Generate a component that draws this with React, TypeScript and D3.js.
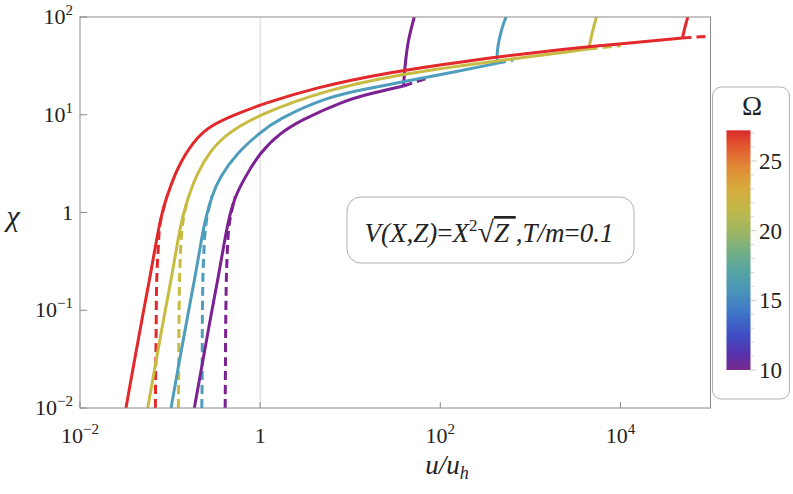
import React from 'react';
import * as d3 from 'd3';

type P = [number, number];

// ---- axis ticks ----
const xTickValues = [0.01, 1, 100, 10000];
const xTickBase = ['10', '1', '10', '10'];
const xTickExp = ['−2', '', '2', '4'];
const yTickValues = [0.01, 0.1, 1, 10, 100];
const yTickBase = ['10', '10', '1', '10', '10'];
const yTickExp = ['−2', '−1', '', '1', '2'];
const gridX = [1];

// ---- colour bar ----
const omegaTicks = [10, 15, 20, 25];
const omegaMinor = [11, 12, 13, 14, 16, 17, 18, 19, 21, 22, 23, 24, 26, 27];
const omegaDomain = [10, 27.2];
const rainbowOmega = [10, 11, 12.5, 14, 15.5, 17, 18.5, 20, 21.5, 23, 24.5, 26, 27.2];
const rainbowColors = ['#7a2a8c', '#5a2ea8', '#3f4ec4', '#3f72c8', '#4892bc', '#55a3a4', '#72ae84', '#a0b662', '#c0b84a', '#d6ab3c', '#e18b37', '#e25a30', '#db2828'];

// ---- curves: [u/u_h, chi] ----
const redSolid: P[] = [[0.0324, 0.01], [0.0391, 0.0265], [0.0486, 0.0794], [0.06, 0.22], [0.0711, 0.542], [0.0809, 0.98], [0.0918, 1.45], [0.121, 2.92], [0.18, 5.3], [0.278, 7.86], [0.647, 10.8], [1, 12.6], [3.88, 18.8], [27.8, 27.4], [215, 35.9], [1000, 42.8], [4300, 49.6], [48900, 61.0]];
const redRise: P[] = [[48900, 61.0], [52100, 79], [56000, 100]];
const redDashLow: P[] = [[0.0687, 0.01], [0.069, 0.0193], [0.0698, 0.0424], [0.0711, 0.204], [0.0741, 0.447], [0.0774, 0.762], [0.0918, 1.45]];
const redDashHigh: P[] = [[48900, 61.0], [105000, 64]];

const yellowSolid: P[] = [[0.0565, 0.01], [0.0681, 0.0265], [0.0843, 0.0794], [0.1045, 0.22], [0.1236, 0.565], [0.1406, 0.98], [0.1596, 1.45], [0.198, 2.48], [0.278, 4.26], [0.427, 6.43], [1, 10.2], [5.51, 17.9], [27.8, 24.9], [215, 32.7], [1000, 39.4], [2780, 44.4], [4450, 47.1]];
const yellowRise: P[] = [[4450, 47.1], [4890, 70.3], [5410, 100]];
const yellowDashLow: P[] = [[0.1236, 0.01], [0.1243, 0.0193], [0.1259, 0.0938], [0.129, 0.304], [0.1384, 0.781], [0.1596, 1.45]];
const yellowDashHigh: P[] = [[4450, 47.1], [10000, 50.9]];

const tealSolid: P[] = [[0.1026, 0.01], [0.1236, 0.0265], [0.1536, 0.0794], [0.19, 0.22], [0.225, 0.565], [0.256, 0.98], [0.29, 1.45], [0.35, 2.25], [0.551, 4.06], [1, 6.58], [1.53, 8.84], [5.51, 15.3], [16.7, 18.7], [38.8, 21.8], [129, 26.9], [427, 33.6]];
const tealRise: P[] = [[427, 33.6], [434, 47.9], [485, 76.6], [537, 100]];
const tealDashLow: P[] = [[0.225, 0.01], [0.227, 0.0193], [0.2286, 0.0938], [0.2344, 0.304], [0.251, 0.781], [0.29, 1.45]];
const tealDashHigh: P[] = [[427, 33.6], [647, 36.3]];

const purpleSolid: P[] = [[0.186, 0.01], [0.225, 0.0265], [0.278, 0.0794], [0.344, 0.22], [0.409, 0.565], [0.464, 0.98], [0.528, 1.45], [0.652, 2.15], [1, 4.16], [1.67, 6.51], [2.78, 8.73], [8.36, 13.8], [16.7, 16.5], [39.1, 19.7]];
const purpleRise: P[] = [[39.1, 19.7], [40.8, 32.3], [44.1, 55.8], [51.4, 100]];
const purpleDashLow: P[] = [[0.409, 0.01], [0.411, 0.0193], [0.416, 0.0938], [0.427, 0.304], [0.456, 0.781], [0.528, 1.45]];
const purpleDashHigh: P[] = [[39.1, 19.7], [73.6, 23.9]];

const familyColors = ['#7b2191', '#4e9dbd', '#c8bb42', '#e2282a'];
const families = [
  { solid: purpleSolid, rise: purpleRise, dashLow: purpleDashLow, dashHigh: purpleDashHigh },
  { solid: tealSolid, rise: tealRise, dashLow: tealDashLow, dashHigh: tealDashHigh },
  { solid: yellowSolid, rise: yellowRise, dashLow: yellowDashLow, dashHigh: yellowDashHigh },
  { solid: redSolid, rise: redRise, dashLow: redDashLow, dashHigh: redDashHigh },
];

const FONT = "'Liberation Serif', 'Times New Roman', serif";

export default function App() {
  const W = 793, H = 494;
  const L = 80, R = 710.5, T = 17, B = 408;
  const x = d3.scaleLog().domain([1e-2, 1e5]).range([L, R]);
  const y = d3.scaleLog().domain([1e-2, 1e2]).range([B, T]);
  const smooth = d3.line<P>().x(d => x(d[0])).y(d => y(d[1])).curve(d3.curveBasis);
  const line = d3.line<P>().x(d => x(d[0])).y(d => y(d[1])).curve(d3.curveCatmullRom.alpha(0.5));
  const lineLin = d3.line<P>().x(d => x(d[0])).y(d => y(d[1]));
  const om = d3.scaleLinear().domain([10, 25]).range([370, 161]);
  const cbX = 726.5, cbW = 24;
  const cbTop = om(omegaDomain[1]), cbBot = om(omegaDomain[0]);
  const sw = 3;

  return (
    <svg width={W} height={H} style={{ position: 'absolute', left: 0, top: 0, background: '#fff' }} fontFamily={FONT}>
      <defs>
        <clipPath id="plotClip"><rect x={L} y={T} width={R - L} height={B - T} /></clipPath>
        <linearGradient id="cbGrad" gradientUnits="userSpaceOnUse" x1="0" y1={cbBot} x2="0" y2={cbTop}>
          {rainbowOmega.map((o, i) => (
            <stop key={i} offset={(o - omegaDomain[0]) / (omegaDomain[1] - omegaDomain[0])} stopColor={rainbowColors[i]} />
          ))}
        </linearGradient>
      </defs>
      <rect width={W} height={H} fill="#fff" />
      {/* grid */}
      {gridX.map((g, i) => <line key={i} x1={x(g)} x2={x(g)} y1={T} y2={B} stroke="#d4d4d4" strokeWidth={1} />)}
      {/* curves */}
      <g clipPath="url(#plotClip)" fill="none" strokeLinejoin="round">
        {families.map((f, i) => (
          <g key={i} stroke={familyColors[i]} strokeWidth={sw}>
            <path d={line(f.dashLow) || ''} strokeDasharray="9,5" />
            <path d={lineLin(f.dashHigh) || ''} strokeDasharray="9,5" />
          </g>
        ))}
        {families.map((f, i) => (
          <g key={'s' + i} stroke={familyColors[i]} strokeWidth={sw}>
            <path d={smooth(f.solid) || ''} />
            <path d={line(f.rise) || ''} />
          </g>
        ))}
      </g>
      {/* frame */}
      <rect x={L} y={T} width={R - L} height={B - T} fill="none" stroke="#8a8a8a" strokeWidth={1} />
      {/* y ticks */}
      {yTickValues.map((v, i) => (
        <g key={i}>
          <line x1={L} x2={L + 7} y1={y(v)} y2={y(v)} stroke="#8a8a8a" />
          <text x={73} y={y(v) + 7} textAnchor="end" fontSize={22} fill="#222">
            <tspan>{yTickBase[i]}</tspan>
            {yTickExp[i] && <tspan dy={-9} fontSize={15}>{yTickExp[i]}</tspan>}
          </text>
        </g>
      ))}
      {/* x ticks */}
      {xTickValues.map((v, i) => (
        <g key={i}>
          <line x1={x(v)} x2={x(v)} y1={B} y2={B - 6} stroke="#8a8a8a" />
          <text x={x(v)} y={443} textAnchor="middle" fontSize={22} fill="#222">
            <tspan>{xTickBase[i]}</tspan>
            {xTickExp[i] && <tspan dy={-9} fontSize={15}>{xTickExp[i]}</tspan>}
          </text>
        </g>
      ))}
      {/* axis labels */}
      <text x={447} y={474} textAnchor="middle" fontSize={27} fontStyle="italic" fill="#222">
        u/u<tspan dy={5} fontSize={18}>h</tspan>
      </text>
      <text x={13} y={226} textAnchor="middle" fontSize={30} fontStyle="italic" fill="#222">χ</text>
      {/* annotation */}
      <rect x={347} y={197} width={287} height={66} rx={14} fill="#fff" stroke="#b0b0b0" strokeWidth={1} />
      <text x={489} y={242} textAnchor="middle" fontSize={27} fontStyle="italic" fill="#222">
        V(X,Z)<tspan fontStyle="normal">=</tspan>X<tspan dy={-11} fontSize={17} fontStyle="normal">2</tspan><tspan dy={11} fontStyle="normal" fontSize={30}>√</tspan><tspan style={{ textDecoration: 'overline' }}>Z </tspan>,T/m<tspan fontStyle="normal">=</tspan>0.1
      </text>
      {/* legend */}
      <rect x={712.5} y={87} width={77} height={312} rx={9} fill="#fff" stroke="#b0b0b0" strokeWidth={1} />
      <text x={752} y={115} textAnchor="middle" fontSize={27} fill="#222">Ω</text>
      <rect x={cbX} y={cbTop} width={cbW} height={cbBot - cbTop} fill="url(#cbGrad)" />
      {omegaMinor.map((v, i) => (
        <line key={i} x1={cbX + cbW} x2={cbX + cbW + 3} y1={om(v)} y2={om(v)} stroke="#c8c8c8" />
      ))}
      {omegaTicks.map((v, i) => (
        <g key={i}>
          <line x1={cbX + cbW} x2={cbX + cbW + 6} y1={om(v)} y2={om(v)} stroke="#c8c8c8" />
          <text x={759} y={om(v) + 8} fontSize={23} fill="#222">{v}</text>
        </g>
      ))}
    </svg>
  );
}
